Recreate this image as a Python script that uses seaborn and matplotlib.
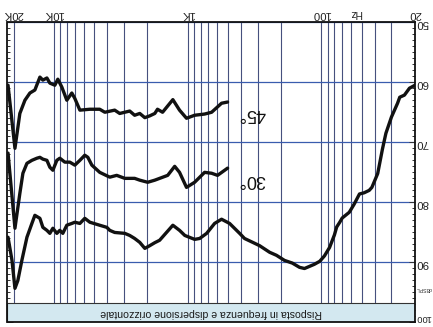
import matplotlib
matplotlib.use("Agg")
import matplotlib.pyplot as plt
import seaborn as sns
import pandas as pd
from matplotlib.ticker import MultipleLocator
from matplotlib.patches import Rectangle
from matplotlib.transforms import blended_transform_factory

# ---- data ----
freq_0 = [22000, 20550, 19530, 18580, 17340, 15890, 14590, 13860, 12710, 12080,
          11270, 10710, 10170, 9500, 9020, 8570, 8000, 7340, 6970, 6390,
          5870, 5380, 4540, 4020, 3820, 3510, 2950, 2710, 2490, 2280,
          2090, 1920, 1760, 1620, 1290, 1150, 1050, 887, 813, 721,
          629, 558, 486, 409, 376, 316, 290, 244, 217, 189,
          165, 146, 134, 113, 103, 95, 87, 80, 77, 73,
          70, 62, 57, 52, 48, 44, 42, 38, 35, 33,
          30, 27, 26, 24, 22, 20]
db_0 = [85.9, 89.75, 94.4, 93.1, 89.75, 85.9, 83.6, 82.25, 82.75, 84.25,
        84.75, 85.25, 84.4, 85.25, 84.75, 85.25, 83.9, 83.6, 83.4, 83.6,
        82.75, 83.4, 83.9, 84.25, 84.75, 85.1, 85.25, 85.6, 86.1, 86.75,
        87.75, 87.3, 86.8, 86.4, 83.9, 84.75, 85.6, 86.25, 86.1, 85.25,
        83.6, 82.9, 83.6, 85.25, 86.1, 86.9, 87.3, 88.4, 88.9, 89.75,
        90.2, 90.9, 91.1, 90.4, 89.9, 89.0, 87.6, 85.5, 84.2, 83.4,
        82.7, 81.75, 80.4, 78.7, 78.5, 78.1, 77.6, 75.3, 71.2, 68.6,
        65.9, 63.6, 62.6, 62.25, 61.1, 60.6]

freq_30 = [22000, 19530, 17950, 17030, 15890, 14590, 13390, 12710, 12080, 11270,
           10710, 10170, 9500, 9020, 8280, 7600, 6970, 6390, 5870, 5570,
           5200, 4540, 3820, 3390, 2950, 2490, 2280, 1990, 1760, 1620,
           1410, 1250, 1150, 1020, 887, 747, 662, 598, 503]
db_30 = [71.9, 84.4, 78.6, 75.25, 73.6, 73.1, 72.75, 72.6, 72.9, 73.1,
         74.25, 74.75, 73.1, 72.75, 73.4, 73.4, 73.9, 73.1, 72.25, 72.6,
         73.9, 75.1, 75.9, 75.6, 76.1, 76.1, 76.4, 76.75, 76.4, 76.1,
         75.6, 74.1, 75.1, 77.6, 76.75, 75.1, 75.25, 75.6, 74.4]

freq_45 = [22000, 19530, 17950, 16450, 15100, 13860, 12710, 12080, 11270, 10710,
           9830, 9340, 8720, 8000, 7340, 6970, 6390, 5380, 4540, 4160,
           3510, 3220, 2710, 2490, 2280, 2090, 1920, 1760, 1680, 1540,
           1290, 1150, 1020, 887, 747, 662, 558, 503]
db_45 = [60.6, 71.1, 65.3, 63.1, 61.9, 61.4, 59.25, 59.75, 59.4, 60.25,
         60.6, 59.6, 60.9, 63.1, 61.9, 62.8, 64.75, 64.6, 64.6, 65.1,
         64.75, 65.3, 64.9, 65.6, 65.3, 66.0, 65.7, 65.3, 64.6, 65.1,
         63.0, 64.75, 66.1, 65.6, 65.4, 65.1, 63.6, 63.4]

x_tick_vals = [20000, 10000, 1000, 100, 20]
x_tick_labels = ["20K", "10K", "1K", "100", "20"]
y_tick_vals = [50, 60, 70, 80, 90, 100]
y_tick_labels = ["50", "60", "70", "80", "90", "100"]
grid_freqs = [m * 10 ** e for e in range(1, 5) for m in range(1, 10)
              if 20 <= m * 10 ** e <= 20000]
caption = "Risposta in frequenza e dispersione orizzontale"

# ---- style ----
sns.set_style("white")
plt.rcParams["font.family"] = ["Liberation Sans", "DejaVu Sans"]

W, H = 433, 327
fig = plt.figure(figsize=(W / 100, H / 100), dpi=100)
fig.patch.set_facecolor("white")
L, R, T, B = 7.5, 415.0, 21.5, 322.0
ax = fig.add_axes([L / W, 1 - B / H, (R - L) / W, (B - T) / H])

curves = pd.concat([
    pd.DataFrame({"freq": freq_0, "db": db_0, "angle": "0°"}),
    pd.DataFrame({"freq": freq_30, "db": db_30, "angle": "30°"}),
    pd.DataFrame({"freq": freq_45, "db": db_45, "angle": "45°"}),
])
sns.lineplot(data=curves, x="freq", y="db", units="angle", estimator=None,
             color="#111111", lw=2.4, ax=ax, legend=False, zorder=3,
             solid_joinstyle="round", solid_capstyle="round")

ax.set_xscale("log")
ax.set_xlim(22200, 20)
ax.set_ylim(100, 50)
ax.set_xlabel("")
ax.set_ylabel("")

# x axis: labels on top, upside down
ax.xaxis.tick_top()
ax.set_xticks(x_tick_vals)
ax.set_xticklabels(x_tick_labels)
ax.set_xticks(grid_freqs, minor=True)
ax.xaxis.set_minor_formatter(plt.NullFormatter())
ax.tick_params(axis="x", which="both", length=0, pad=2, labelsize=8.2,
               labelcolor="#222222")
for lab in ax.get_xticklabels():
    lab.set_rotation(180)

# y axis: labels on right, upside down, inward ticks each dB on both sides
ax.set_yticks(y_tick_vals)
ax.set_yticklabels(y_tick_labels)
ax.yaxis.set_minor_locator(MultipleLocator(1))
ax.tick_params(axis="y", which="both", left=True, right=True,
               labelleft=False, labelright=True, direction="in",
               color="#333333", width=0.7)
ax.tick_params(axis="y", which="major", length=4, pad=0.5, labelsize=8.2,
               labelcolor="#222222")
ax.tick_params(axis="y", which="minor", length=2.5)
ylabs = ax.get_yticklabels()
for lab in ylabs:
    lab.set_rotation(180)
ylabs[-1].set_verticalalignment("bottom")
ylabs[-1].set_fontsize(6.8)

ax.set_axisbelow(True)
ax.grid(axis="x", which="both", color="#46507e", lw=0.8)
ax.grid(axis="y", which="major", color="#3a5cae", lw=0.9)

for sp in ax.spines.values():
    sp.set_color("#111111")
    sp.set_linewidth(1.3)
    sp.set_zorder(5)

# caption bar
bar_h = (B - 303.0) / (B - T)
ax.add_patch(Rectangle((0, 0), 1, bar_h, transform=ax.transAxes,
                       facecolor="#d3e8f0", edgecolor="#333333", lw=0.8,
                       zorder=2.6))
ax.text(0.5, bar_h / 2, caption, transform=ax.transAxes, rotation=180,
        ha="center", va="center", fontsize=7.6, color="#1a1a1a", zorder=4)

# extra labels
bt = blended_transform_factory(ax.transData, ax.transAxes)
ax.text(55, 1.012, "Hz", transform=bt, rotation=180, ha="center",
        va="bottom", fontsize=7.5, color="#222222")
ax.text(1.022, 0.11, "dBSPL", transform=ax.transAxes, rotation=180,
        ha="center", va="center", fontsize=3.8, color="#333333")
ax.text(333, 65.3, "45°", rotation=180, ha="center", va="center",
        fontsize=13, color="#111111", zorder=4)
ax.text(333, 76.25, "30°", rotation=180, ha="center", va="center",
        fontsize=13, color="#111111", zorder=4)

fig.savefig("out.png", dpi=100, facecolor="white")
